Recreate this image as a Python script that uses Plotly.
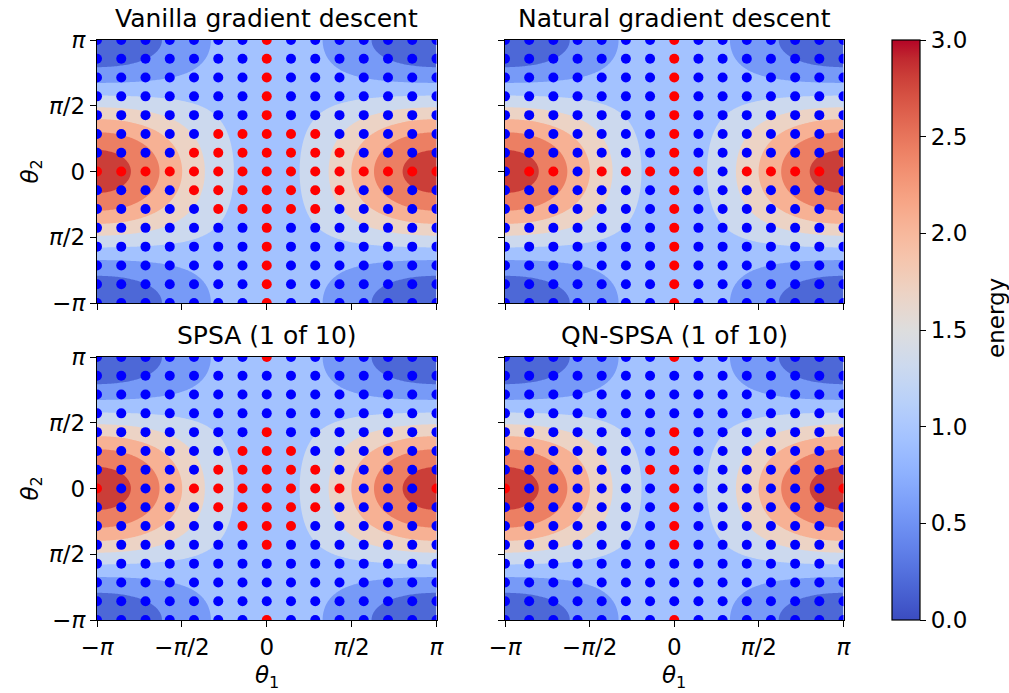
import numpy as np
import plotly.graph_objects as go

# ---- figure geometry (pixels) ----
W, H = 1009, 693

# ---- energy landscape: E = c0 + c1*cos(t1) + c2*cos(t2) + c3*cos(t1)*cos(t2) ----
energy_coeffs = [1.205, -0.245, 0.675, -0.675]

# contour levels and the flat colour of each filled band (coolwarm, 0..3)
level_start, level_end, level_step = 0.375, 2.625, 0.375
band_colors = ["#4d68d7", "#779af7", "#a3c2ff", "#ccd9ee",
               "#ecd3c5", "#f7b194", "#ec7f63", "#cb3e38"]

# continuous coolwarm for the colorbar
coolwarm = [
    (59, 76, 192), (68, 90, 204), (77, 104, 215), (87, 117, 225), (98, 130, 234),
    (108, 142, 241), (119, 154, 247), (130, 165, 251), (141, 176, 254), (152, 185, 255),
    (163, 194, 255), (174, 201, 253), (184, 208, 249), (194, 213, 244), (204, 217, 238),
    (213, 219, 230), (221, 221, 221), (229, 216, 209), (236, 211, 197), (241, 204, 184),
    (245, 196, 172), (247, 187, 160), (247, 177, 148), (247, 166, 135), (244, 154, 123),
    (241, 141, 111), (236, 127, 99), (229, 112, 88), (222, 96, 77), (213, 80, 66),
    (203, 62, 56), (192, 40, 47), (180, 4, 38)]
cbar_ticks = [0.0, 0.5, 1.0, 1.5, 2.0, 2.5, 3.0]

# ---- initial points: 15 x 15 grid on [-pi, pi]^2 ----
n_grid = 15
# convergence maps: rows from theta2 = pi (top) down to -pi, 'R' = reached the minimum
vanilla_converged = [
    ".......R.......",
    ".......R.......",
    ".......R.......",
    ".......R.......",
    ".......R.......",
    ".....RRRRR.....",
    "....RRRRRRR....",
    "RRRRRRRRRRRRRRR",
    "....RRRRRRR....",
    ".....RRRRR.....",
    ".......R.......",
    ".......R.......",
    ".......R.......",
    ".......R.......",
    ".......R.......",
]
natural_converged = [
    ".......R.......",
    ".......R.......",
    ".......R.......",
    ".......R.......",
    ".......R.......",
    ".......R.......",
    ".......R.......",
    ".RR.RRRRR.RRRR.",
    ".......R.......",
    ".......R.......",
    ".......R.......",
    ".......R.......",
    ".......R.......",
    ".......R.......",
    ".......R.......",
]
spsa_converged = [
    ".......R.......",
    "...............",
    "...............",
    "...............",
    ".......R.......",
    "......RRR......",
    ".....RRRRR.....",
    "R...RRRRRRR...R",
    ".....RRRRR.....",
    "......RRR......",
    ".......R.......",
    "...............",
    "...............",
    "...............",
    ".......R.......",
]
qnspsa_converged = [
    ".......R.......",
    "...............",
    "...............",
    "...............",
    ".......R.......",
    ".......R.......",
    "......RR.......",
    "R......R......R",
    ".......R.......",
    ".......R.......",
    ".......R.......",
    "...............",
    "...............",
    "...............",
    ".......R.......",
]

panel_titles = ["Vanilla gradient descent", "Natural gradient descent",
                "SPSA (1 of 10)", "QN-SPSA (1 of 10)"]
panel_maps = [vanilla_converged, natural_converged, spsa_converged, qnspsa_converged]

tick_vals = [-np.pi, -np.pi / 2, 0, np.pi / 2, np.pi]
x_tick_text = ["\u2212<i>\u03c0</i>", "\u2212<i>\u03c0</i>/2", "0", "<i>\u03c0</i>/2", "<i>\u03c0</i>"]
y_tick_text = ["\u2212<i>\u03c0</i>", "<i>\u03c0</i>/2", "0", "<i>\u03c0</i>/2", "<i>\u03c0</i>"]

# ---- panel placement in pixels: (left, right, top, bottom) ----
panel_px = [(97, 436.5, 40, 303), (505, 843.5, 40, 303),
            (97, 436.5, 357, 620), (505, 843.5, 357, 620)]

FONT = "DejaVu Sans"
FS = 23
FS_TITLE = 25


def px_x(v):
    return v / W


def px_y(v):
    return 1 - v / H


# fine grid for the landscape
t = np.linspace(-np.pi, np.pi, 241)
T1, T2 = np.meshgrid(t, t)
c0, c1, c2, c3 = energy_coeffs
energy = c0 + c1 * np.cos(T1) + c2 * np.cos(T2) + c3 * np.cos(T1) * np.cos(T2)

n_lv = int(round((level_end - level_start) / level_step)) + 1
band_scale = [[k / n_lv, band_colors[k]] for k in range(n_lv + 1)]

grid = np.linspace(-np.pi, np.pi, n_grid)

fig = go.Figure()
layout = dict(width=W, height=H,
              margin=dict(l=0, r=0, t=0, b=0, pad=0, autoexpand=False),
              paper_bgcolor="white", plot_bgcolor="white", showlegend=False,
              font=dict(family=FONT, size=FS, color="black"))
annotations = []

for k in range(4):
    ax = "" if k == 0 else str(k + 1)
    xa, ya = "x" + ax, "y" + ax
    left, right, top, bottom = panel_px[k]

    fig.add_trace(go.Contour(
        x=t, y=t, z=energy, xaxis=xa, yaxis=ya,
        contours=dict(start=level_start, end=level_end, size=level_step,
                      coloring="fill", showlines=False),
        line=dict(width=0), colorscale=band_scale, showscale=False,
        hoverinfo="skip"))

    rows = panel_maps[k]
    red_x, red_y, blue_x, blue_y = [], [], [], []
    for r, row in enumerate(rows):
        yv = grid[n_grid - 1 - r]
        for c, ch in enumerate(row):
            if ch == "R":
                red_x.append(grid[c]); red_y.append(yv)
            else:
                blue_x.append(grid[c]); blue_y.append(yv)
    fig.add_trace(go.Scatter(x=blue_x, y=blue_y, mode="markers", xaxis=xa, yaxis=ya,
                             marker=dict(color="#0000ff", size=10, line=dict(width=0))))
    fig.add_trace(go.Scatter(x=red_x, y=red_y, mode="markers", xaxis=xa, yaxis=ya,
                             marker=dict(color="#ff0000", size=10, line=dict(width=0))))

    bottom_row = k >= 2
    left_col = k % 2 == 0
    common = dict(range=[-np.pi, np.pi], showgrid=False, zeroline=False,
                  showline=True, mirror=True, linecolor="black", linewidth=1.3,
                  ticks="outside", ticklen=6, tickwidth=1.3, tickcolor="black",
                  tickvals=tick_vals, tickfont=dict(family=FONT, size=FS, color="black"))
    layout["xaxis" + ax] = dict(common, domain=[px_x(left), px_x(right)],
                                anchor=ya, ticktext=x_tick_text,
                                showticklabels=bottom_row)
    layout["yaxis" + ax] = dict(common, domain=[px_y(bottom), px_y(top)],
                                anchor=xa, ticktext=y_tick_text,
                                showticklabels=left_col)

    cx = (left + right) / 2
    annotations.append(dict(text=panel_titles[k], x=px_x(cx), y=px_y(top - 22),
                            xref="paper", yref="paper", showarrow=False,
                            xanchor="center", yanchor="middle",
                            font=dict(family=FONT, size=FS_TITLE, color="black")))
    if bottom_row:
        annotations.append(dict(text="<i>\u03b8</i><sub>1</sub>", x=px_x(cx), y=px_y(677),
                                xref="paper", yref="paper", showarrow=False,
                                xanchor="center", yanchor="middle",
                                font=dict(family=FONT, size=FS, color="black")))
    if left_col:
        annotations.append(dict(text="<i>\u03b8</i><sub>2</sub>", x=px_x(31),
                                y=px_y((top + bottom) / 2), textangle=-90,
                                xref="paper", yref="paper", showarrow=False,
                                xanchor="center", yanchor="middle",
                                font=dict(family=FONT, size=FS, color="black")))

# colorbar label
annotations.append(dict(text="energy", x=px_x(996), y=px_y(318), textangle=-90,
                        xref="paper", yref="paper", showarrow=False,
                        xanchor="center", yanchor="middle",
                        font=dict(family=FONT, size=FS, color="black")))

# colorbar carrier (no visible points)
fig.add_trace(go.Scatter(
    x=[None], y=[None], mode="markers", xaxis="x", yaxis="y",
    marker=dict(color=[0], cmin=0, cmax=3, showscale=True,
                colorscale=[[i / (len(coolwarm) - 1), "rgb(%d,%d,%d)" % c]
                            for i, c in enumerate(coolwarm)],
                colorbar=dict(x=px_x(892), xanchor="left", xpad=0,
                              y=px_y(40), yanchor="top", ypad=0,
                              len=580, lenmode="pixels",
                              thickness=28, thicknessmode="pixels",
                              outlinewidth=1.2, outlinecolor="black",
                              ticks="outside", ticklen=6, tickwidth=1.3, tickcolor="black",
                              tickvals=cbar_ticks, ticktext=["%.1f" % v for v in cbar_ticks],
                              tickfont=dict(family=FONT, size=FS, color="black")))))

layout["annotations"] = annotations
fig.update_layout(**layout)
fig.write_html("out.html")
